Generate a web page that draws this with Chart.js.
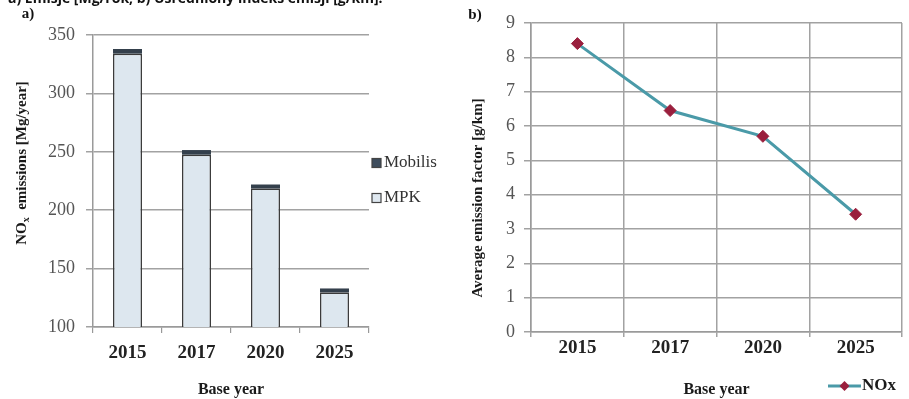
<!DOCTYPE html>
<html>
<head>
<meta charset="utf-8">
<script src="https://cdn.jsdelivr.net/npm/chart.js@4/dist/chart.umd.min.js"></script>
<style>
  html, body { margin: 0; padding: 0; background: #ffffff; }
  #wrap { position: relative; width: 909px; height: 399px; overflow: hidden; }
  .pane { position: absolute; top: 0; height: 399px; }
  #leftPane { left: 0; width: 455px; }
  #rightPane { left: 455px; width: 454px; }
</style>
</head>
<body>
<div id="wrap">
  <div class="pane" id="leftPane"><canvas id="emissions"></canvas></div>
  <div class="pane" id="rightPane"><canvas id="factor"></canvas></div>
</div>
<script>
// Base years shown on both panels
const years = ['2015', '2017', '2020', '2025'];

// a) NOx emissions [Mg/year], stacked by source
const mpkEmissions = [334, 247.5, 218.5, 129.5];
const mobilisEmissions = [4, 4, 3.5, 3.5];

// b) average NOx emission factor [g/km]
const noxFactor = [8.4, 6.45, 5.7, 3.43];

// axis tick ranges
const emissionTicks = { min: 100, max: 350, step: 50 };
const factorTicks = { min: 0, max: 9, step: 1 };

const caption = 'a) Emisje [Mg/rok, b) Uśredniony indeks emisji [g/km].';

const SERIF = '"Liberation Serif", "DejaVu Serif", serif';
const SANS = '"Open Sans", "Liberation Sans", sans-serif';
const GRID = '#a2a2a2';

function text(ctx, str, x, y, font, color, align, rot) {
  ctx.save();
  ctx.font = font;
  ctx.fillStyle = color;
  ctx.textAlign = align || 'center';
  ctx.textBaseline = 'middle';
  ctx.translate(x, y);
  if (rot) ctx.rotate(rot);
  ctx.fillText(str, 0, 0);
  ctx.restore();
}

// ---------- panel a) stacked bars ----------
const emissionsDecor = {
  id: 'emissionsDecor',
  afterDraw(chart) {
    const ctx = chart.ctx;
    const area = chart.chartArea;
    // caption line at the very top, partly cut by the page edge
    ctx.save();
    ctx.font = 'bold 14px ' + SANS;
    ctx.fillStyle = '#111';
    ctx.textAlign = 'left';
    ctx.textBaseline = 'alphabetic';
    ctx.fillText(caption, 8, 3);
    ctx.restore();

    text(ctx, 'a)', 28, 14, 'bold 15px ' + SERIF, '#111');

    // y axis title with subscript x
    ctx.save();
    ctx.translate(22, 163);
    ctx.rotate(-Math.PI / 2);
    ctx.fillStyle = '#1a1a1a';
    ctx.textBaseline = 'middle';
    ctx.font = 'bold 15px ' + SERIF;
    const p1 = 'NO', p2 = 'x', p3 = '  emissions [Mg/year]';
    const w1 = ctx.measureText(p1).width;
    const w3 = ctx.measureText(p3).width;
    ctx.font = 'bold 10px ' + SERIF;
    const w2 = ctx.measureText(p2).width;
    let x0 = -(w1 + w2 + w3) / 2;
    ctx.textAlign = 'left';
    ctx.font = 'bold 15px ' + SERIF;
    ctx.fillText(p1, x0, 0);
    ctx.font = 'bold 10px ' + SERIF;
    ctx.fillText(p2, x0 + w1, 4);
    ctx.font = 'bold 15px ' + SERIF;
    ctx.fillText(p3, x0 + w1 + w2, 0);
    ctx.restore();

    text(ctx, 'Base year', (area.left + area.right) / 2, 390, 'bold 16px ' + SERIF, '#1a1a1a');

    // legend (stack order, top segment first)
    const lx = area.right + 3;
    const items = [
      { label: 'Mobilis', fill: '#3e4d5d', y: 163 },
      { label: 'MPK', fill: '#dfe8f0', y: 198 }
    ];
    items.forEach(it => {
      ctx.save();
      ctx.fillStyle = it.fill;
      ctx.strokeStyle = '#444';
      ctx.lineWidth = 1.2;
      ctx.fillRect(lx, it.y - 4.5, 9, 9);
      ctx.strokeRect(lx, it.y - 4.5, 9, 9);
      ctx.restore();
      text(ctx, it.label, lx + 12, it.y, '17px ' + SERIF, '#333', 'left');
    });
  }
};

new Chart(document.getElementById('emissions'), {
  type: 'bar',
  data: {
    labels: years,
    datasets: [
      {
        label: 'MPK',
        data: mpkEmissions,
        backgroundColor: '#dde7ef',
        borderColor: '#3a3a3a',
        borderWidth: 1.5,
        borderSkipped: false,
        categoryPercentage: 0.42,
        barPercentage: 1
      },
      {
        label: 'Mobilis',
        data: mobilisEmissions,
        backgroundColor: '#34404c',
        borderWidth: 0,
        categoryPercentage: 0.42,
        barPercentage: 1
      }
    ]
  },
  options: {
    responsive: true,
    maintainAspectRatio: false,
    animation: false,
    devicePixelRatio: 1,
    layout: { padding: { top: 35, right: 86, left: 0, bottom: 0 } },
    plugins: { legend: { display: false }, tooltip: { enabled: false } },
    scales: {
      x: {
        stacked: true,
        afterFit(scale) { scale.height = 72; },
        grid: { display: true, drawOnChartArea: false, offset: true, tickLength: 6, color: '#999', lineWidth: 1.2 },
        border: { color: '#9a9a9a', width: 1.5 },
        ticks: { font: { family: SERIF, size: 19, weight: 'bold' }, color: '#222', padding: 9 }
      },
      y: {
        stacked: true,
        min: emissionTicks.min,
        max: emissionTicks.max,
        afterFit(scale) { scale.width = 93; },
        grid: { color: GRID, lineWidth: 1.5, tickLength: 7 },
        border: { color: '#9a9a9a', width: 1.5 },
        ticks: { stepSize: emissionTicks.step, font: { family: SERIF, size: 18 }, color: '#555', padding: 11 }
      }
    }
  },
  plugins: [emissionsDecor]
});

// ---------- panel b) emission factor line ----------
const factorDecor = {
  id: 'factorDecor',
  afterDraw(chart) {
    const ctx = chart.ctx;
    const area = chart.chartArea;
    text(ctx, 'b)', 20, 15, 'bold 15px ' + SERIF, '#111');
    text(ctx, 'Average emission factor [g/km]', 23, 198, 'bold 15px ' + SERIF, '#1a1a1a', 'center', -Math.PI / 2);
    text(ctx, 'Base year', (area.left + area.right) / 2, 390, 'bold 16px ' + SERIF, '#1a1a1a');

    // legend entry: line with diamond marker
    const y = 386;
    ctx.save();
    ctx.strokeStyle = '#4a9aa8';
    ctx.lineWidth = 3;
    ctx.beginPath();
    ctx.moveTo(373, y);
    ctx.lineTo(406, y);
    ctx.stroke();
    ctx.fillStyle = '#9a1f3d';
    ctx.beginPath();
    ctx.moveTo(389.5, y - 5);
    ctx.lineTo(394.5, y);
    ctx.lineTo(389.5, y + 5);
    ctx.lineTo(384.5, y);
    ctx.closePath();
    ctx.fill();
    ctx.restore();
    text(ctx, 'NOx', 407, y, 'bold 17px ' + SERIF, '#1a1a1a', 'left');
  }
};

new Chart(document.getElementById('factor'), {
  type: 'line',
  data: {
    labels: years,
    datasets: [{
      label: 'NOx',
      data: noxFactor,
      borderColor: '#4a9aa8',
      borderWidth: 3,
      tension: 0,
      pointStyle: 'rectRot',
      pointRadius: 6,
      pointBackgroundColor: '#9a1f3d',
      pointBorderColor: '#9a1f3d',
      pointBorderWidth: 1
    }]
  },
  options: {
    responsive: true,
    maintainAspectRatio: false,
    animation: false,
    devicePixelRatio: 1,
    layout: { padding: { top: 23, right: 2, left: 0, bottom: 0 } },
    plugins: { legend: { display: false }, tooltip: { enabled: false } },
    scales: {
      x: {
        offset: true,
        afterFit(scale) { scale.height = 67; },
        grid: { display: true, offset: true, tickLength: 5, color: GRID, lineWidth: 1.5 },
        border: { color: '#9a9a9a', width: 1.5 },
        ticks: { font: { family: SERIF, size: 19, weight: 'bold' }, color: '#222', padding: 0 }
      },
      y: {
        min: factorTicks.min,
        max: factorTicks.max,
        afterFit(scale) { scale.width = 76; },
        grid: { color: GRID, lineWidth: 1.5, tickLength: 7 },
        border: { color: '#9a9a9a', width: 1.5 },
        ticks: { stepSize: factorTicks.step, font: { family: SERIF, size: 18 }, color: '#555', padding: 9 }
      }
    }
  },
  plugins: [factorDecor]
});
</script>
</body>
</html>
